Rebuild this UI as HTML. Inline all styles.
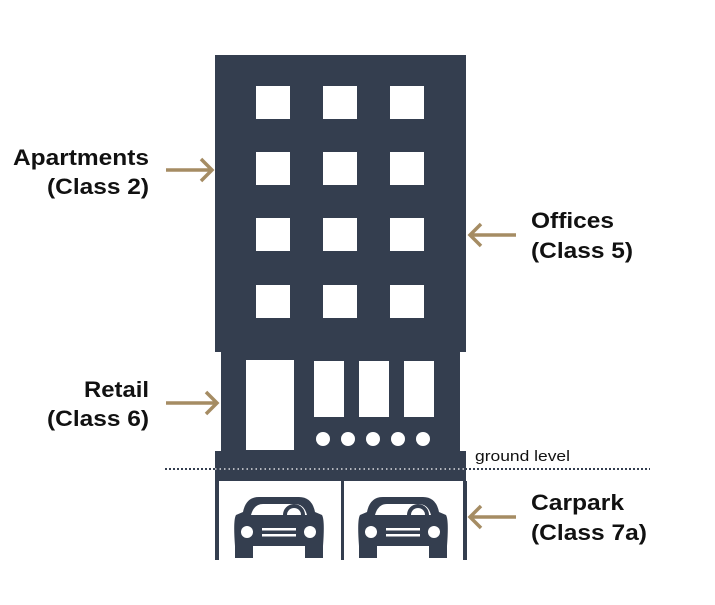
<!DOCTYPE html>
<html><head><style>
body{margin:0;background:#fff;}
text{font-family:"Liberation Sans",Arial,sans-serif;}
</style></head><body>
<svg width="715" height="600" viewBox="0 0 715 600" xmlns="http://www.w3.org/2000/svg">
<defs>
<g id="car">
 <path d="M-36,16 Q-33,1 -20,1 L20,1 Q33,1 36,16 L43,19 Q46,24 44,50 L-44,50 Q-46,24 -43,19 Z" fill="#343e4f"/>
 <path d="M-28,19 Q-25,8 -16,8 L16,8 Q25,8 28,19 Z" fill="#fff"/>
 <path d="M4,19 A11,11 0 0 1 26,19 Z" fill="#343e4f"/>
 <path d="M8,19 A7,7 0 0 1 22,19 Z" fill="#fff"/>
 <rect x="-44" y="48" width="18" height="14" fill="#343e4f"/>
 <rect x="26" y="48" width="18" height="14" fill="#343e4f"/>
 <circle cx="-32" cy="36" r="6" fill="#fff"/>
 <circle cx="31" cy="36" r="6" fill="#fff"/>
 <rect x="-17" y="32" width="34" height="2.5" fill="#fff"/>
 <rect x="-17" y="38" width="34" height="2.5" fill="#fff"/>
</g>
</defs>
<g fill="#343e4f">
 <rect x="215" y="55" width="251" height="297"/>
 <rect x="221" y="351" width="239" height="101"/>
 <rect x="215" y="451" width="251" height="30"/>
 <rect x="215" y="481" width="4" height="79"/>
 <rect x="341" y="481" width="3" height="79"/>
 <rect x="463" y="481" width="4" height="79"/>
</g>
<g fill="#fff">
 <rect x="256" y="86" width="34" height="33"/><rect x="323" y="86" width="34" height="33"/><rect x="390" y="86" width="34" height="33"/>
 <rect x="256" y="152" width="34" height="33"/><rect x="323" y="152" width="34" height="33"/><rect x="390" y="152" width="34" height="33"/>
 <rect x="256" y="218" width="34" height="33"/><rect x="323" y="218" width="34" height="33"/><rect x="390" y="218" width="34" height="33"/>
 <rect x="256" y="285" width="34" height="33"/><rect x="323" y="285" width="34" height="33"/><rect x="390" y="285" width="34" height="33"/>
 <rect x="246" y="360" width="48" height="90"/>
 <rect x="314" y="361" width="30" height="56"/><rect x="359" y="361" width="30" height="56"/><rect x="404" y="361" width="30" height="56"/>
 <circle cx="323" cy="439" r="7"/><circle cx="348" cy="439" r="7"/><circle cx="373" cy="439" r="7"/><circle cx="398" cy="439" r="7"/><circle cx="423" cy="439" r="7"/>
</g>
<line x1="165" y1="469" x2="650" y2="469" stroke="#343e4f" stroke-width="2" stroke-dasharray="2,2"/>
<line x1="215" y1="469" x2="466" y2="469" stroke="#fff" stroke-width="1.2" stroke-dasharray="1.5,3"/>
<use href="#car" x="279" y="496"/>
<use href="#car" x="403" y="496"/>
<g stroke="#a58c63" stroke-width="3.5" fill="none">
 <path d="M166,170 H212 M201,159 L212,170 L201,181"/>
 <path d="M166,403 H217 M206,392 L217,403 L206,414"/>
 <path d="M516,235 H470 M481,224 L470,235 L481,246"/>
 <path d="M516,517 H470 M481,506 L470,517 L481,528"/>
</g>
<g font-weight="bold" font-size="22" fill="#111" lengthAdjust="spacingAndGlyphs">
 <text x="13" y="165" textLength="136" lengthAdjust="spacingAndGlyphs">Apartments</text>
 <text x="47" y="194" textLength="102" lengthAdjust="spacingAndGlyphs">(Class 2)</text>
 <text x="84" y="397" textLength="65" lengthAdjust="spacingAndGlyphs">Retail</text>
 <text x="47" y="426" textLength="102" lengthAdjust="spacingAndGlyphs">(Class 6)</text>
 <text x="531" y="228" textLength="83" lengthAdjust="spacingAndGlyphs">Offices</text>
 <text x="531" y="258" textLength="102" lengthAdjust="spacingAndGlyphs">(Class 5)</text>
 <text x="531" y="510" textLength="93" lengthAdjust="spacingAndGlyphs">Carpark</text>
 <text x="531" y="540" textLength="116" lengthAdjust="spacingAndGlyphs">(Class 7a)</text>
</g>
<text x="475" y="461" font-size="15" fill="#111" textLength="95" lengthAdjust="spacingAndGlyphs">ground level</text>
</svg>
</body></html>
